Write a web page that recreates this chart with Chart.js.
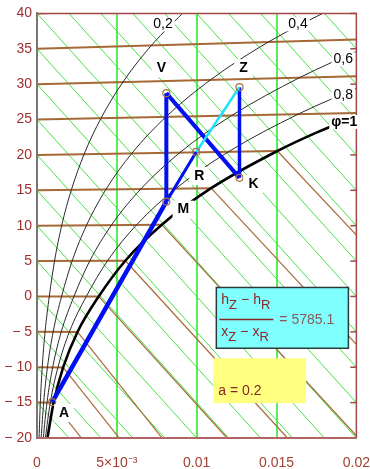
<!DOCTYPE html>
<html lang="de">
<head>
<meta charset="UTF-8">
<title>h-x Diagramm</title>
<style>
    body { margin: 0; background: #fff; }
    #wrap { width: 370px; height: 469px; }
</style>
<script src="https://cdn.jsdelivr.net/npm/chart.js"></script>
</head>
<body>
<div id="wrap"><canvas id="hx" width="370" height="469"></canvas></div>
<script>
// --- Achsen ---
const xTickLabels = ['0', '5×10⁻³', '0.01', '0.015', '0.02'];
const yTickValues = [-20, -15, -10, -5, 0, 5, 10, 15, 20, 25, 30, 35, 40];

// --- Isothermen: t bei x = 0, Punkt auf phi = 1 (bzw. Rand), Ende der Nebelisotherme ---
const isoT    = [-20, -15, -10, -5, 0, 5, 10, 15, 20, 25, 30, 35, 40];
const isoSatX = [0.000651, 0.00104, 0.001637, 0.002535, 0.003864, 0.005531, 0.007814, 0.010905, 0.015052, 0.02, 0.02, 0.02, 0.02];
const isoSatY = [-20.02, -15.03, -10.03, -5.02, 0, 5.05, 10.14, 15.30, 20.56, 25.93, 31.11, 36.30, 41.48];
const fogEndX = [null, 0.002783, 0.005148, 0.007832, 0.011901, 0.015682, 0.02, 0.02, 0.02, null, null, null, null];
const fogEndY = [null, -20, -20, -20, -20, -20, -19.68, -6.76, 8.66, null, null, null, null];

// --- Linien konstanter Enthalpie (Wert am linken und rechten Rand) ---
const hLeft  = [-15, -10, -5, 0, 5, 10, 15, 20, 25, 30, 35, 40, 45, 50, 55, 60, 65, 70, 75, 80, 85, 90];
const hRight = [-65, -60, -55, -50, -45, -40, -35, -30, -25, -20, -15, -10, -5, 0, 5, 10, 15, 20, 25, 30, 35, 40];

// --- Linien konstanter relativer Feuchte ---
const phi02X = [0.000130, 0.000208, 0.000327, 0.000505, 0.000769, 0.001098, 0.001547, 0.002151, 0.002953, 0.004009, 0.005382, 0.007154, 0.009420];
const phi02Y = [-20.00, -15.01, -10.01, -5.00, 0, 5.01, 10.03, 15.06, 20.11, 25.19, 30.30, 35.46, 40.70];
const phi04X = [0.000260, 0.000416, 0.000654, 0.001011, 0.001540, 0.002200, 0.003102, 0.004316, 0.005935, 0.008069, 0.010859, 0.014475, 0.019129];
const phi04Y = [-20.01, -15.01, -10.01, -5.01, 0, 5.02, 10.06, 15.12, 20.22, 25.37, 30.60, 35.94, 41.42];
const phi06X = [0.000391, 0.000623, 0.000981, 0.001518, 0.002313, 0.003307, 0.004665, 0.006497, 0.008945, 0.012183, 0.016432, 0.018473, 0.020026];
const phi06Y = [-20.01, -15.02, -10.02, -5.01, 0, 5.03, 10.09, 15.18, 20.33, 25.56, 30.91, 33.09, 34.64];
const phi08X = [0.000521, 0.000831, 0.001309, 0.002026, 0.003087, 0.004417, 0.006235, 0.008693, 0.011984, 0.016350, 0.018461, 0.020066];
const phi08Y = [-20.02, -15.02, -10.03, -5.02, 0, 5.04, 10.12, 15.24, 20.44, 25.76, 27.92, 29.45];
const phi10X = [0.000651, 0.001040, 0.001637, 0.002535, 0.003864, 0.005531, 0.007814, 0.010905, 0.015052, 0.017570, 0.019970];
const phi10Y = [-20.02, -15.03, -10.03, -5.02, 0, 5.05, 10.14, 15.30, 20.56, 23.23, 25.41];

// --- Zustandspunkte ---
const ptName = ['A', 'M', 'R', 'V', 'Z', 'K'];
const ptX    = [0.00095, 0.0081, 0.00997, 0.0081, 0.01268, 0.01268];
const ptY    = [-14.93, 13.4, 20.42, 28.73, 29.58, 16.76];

// Beschriftungen (Lage im Diagramm) und Kästen
const phiLabels = [
    { text: '0,2', x: 0.00789, y: 38.45, bold: false },
    { text: '0,4', x: 0.01634, y: 38.45, bold: false },
    { text: '0,6', x: 0.01918, y: 33.52, bold: false },
    { text: '0,8', x: 0.01918, y: 28.45, bold: false },
    { text: 'φ=1', x: 0.01924, y: 24.65, bold: true }
];
const ptLabelOffset = { A: [12, 11], M: [17, 8], R: [3, 24], V: [-5, -25], Z: [4, -19], K: [14, 6] };
const cyanBox   = { x1: 0.01123, y1: 1.27, x2: 0.0195, y2: -7.32 };
const yellowBox = { x1: 0.01104, y1: -8.73, x2: 0.01685, y2: -15.07 };
const slopeText = '= 5785.1';
const aText = 'a = 0.2';

const FONT = 'Arial, "Liberation Sans", sans-serif';
const GREEN = 'rgb(70,225,70)';
const BROWN = 'rgb(165,105,55)';
const BLUE = '#0010f0';
const CYAN = '#18e0ff';
const MAROON = '#8b2525';

function pt(name) {
    const i = ptName.indexOf(name);
    return { x: ptX[i], y: ptY[i] };
}

function line(points, color, width, extra) {
    return Object.assign({
        data: points,
        showLine: true,
        borderColor: color,
        borderWidth: width,
        pointRadius: 0,
        pointHoverRadius: 0,
        fill: false,
        tension: 0
    }, extra || {});
}

// Ebenen von unten nach oben
const layers = [];

hLeft.forEach((h, i) => {
    layers.push(line([{ x: 0, y: h }, { x: 0.02, y: hRight[i] }], GREEN, 1));
});

isoT.forEach((t, i) => {
    layers.push(line([{ x: 0, y: t }, { x: isoSatX[i], y: isoSatY[i] }], BROWN, 2));
    if (fogEndX[i] !== null) {
        layers.push(line([{ x: isoSatX[i], y: isoSatY[i] }, { x: fogEndX[i], y: fogEndY[i] }], BROWN, 1.2));
    }
});

[[phi02X, phi02Y, 1], [phi04X, phi04Y, 1], [phi06X, phi06Y, 1], [phi08X, phi08Y, 1], [phi10X, phi10Y, 2.6]].forEach(c => {
    const pts = c[0].map((x, k) => ({ x: x, y: c[1][k] }));
    layers.push(line(pts, c[2] > 1 ? '#000' : '#2a2a2a', c[2], { cubicInterpolationMode: 'monotone' }));
});

layers.push(line([pt('A'), pt('M')], BLUE, 4.5));
layers.push(line([pt('M'), pt('R')], BLUE, 3));
layers.push(line([pt('V'), pt('M')], BLUE, 4));
layers.push(line([pt('V'), pt('K')], BLUE, 4));
layers.push(line([pt('K'), pt('Z')], BLUE, 3.5));
layers.push(line([pt('Z'), pt('R')], CYAN, 2.5));

layers.push({
    data: ptName.map(n => pt(n)),
    showLine: false,
    pointRadius: 3.5,
    pointBorderWidth: 1.2,
    pointBorderColor: 'rgb(170,110,70)',
    pointBackgroundColor: 'rgba(0,0,0,0)'
});

layers.forEach((d, i) => { d.order = layers.length - i; });

function labelBox(ctx, text, cx, cy, font, padX, h) {
    ctx.font = font;
    const w = ctx.measureText(text).width;
    ctx.fillStyle = '#fff';
    ctx.fillRect(cx - w / 2 - padX, cy - h / 2, w + 2 * padX, h);
    ctx.fillStyle = '#000';
    ctx.textAlign = 'center';
    ctx.textBaseline = 'middle';
    ctx.fillText(text, cx, cy);
}

// Bruch mit Indizes: Grundbuchstabe + Index, zweimal
function subTerm(ctx, letter, x0, base) {
    let x = x0;
    ctx.font = '14px ' + FONT;
    ctx.fillText(letter, x, base);
    x += ctx.measureText(letter).width;
    ctx.font = '13px ' + FONT;
    ctx.fillText('Z', x, base + 5);
    x += ctx.measureText('Z').width + 4;
    ctx.font = '14px ' + FONT;
    ctx.fillText('−', x, base);
    x += ctx.measureText('−').width + 4;
    ctx.fillText(letter, x, base);
    x += ctx.measureText(letter).width;
    ctx.font = '13px ' + FONT;
    ctx.fillText('R', x, base + 5);
}

const notes = {
    id: 'notes',
    afterDatasetsDraw(chart) {
        const { ctx, chartArea: a, scales: { x, y } } = chart;
        ctx.save();

        // Rahmen oben/rechts mit Teilstrichen
        ctx.strokeStyle = '#a04848';
        ctx.lineWidth = 1.5;
        ctx.beginPath();
        ctx.moveTo(a.left, a.top);
        ctx.lineTo(a.right, a.top);
        ctx.lineTo(a.right, a.bottom);
        ctx.stroke();
        yTickValues.forEach(v => {
            const py = y.getPixelForValue(v);
            ctx.beginPath();
            ctx.moveTo(a.right - 6, py);
            ctx.lineTo(a.right, py);
            ctx.stroke();
        });

        // phi-Beschriftungen
        phiLabels.forEach(l => {
            labelBox(ctx, l.text, x.getPixelForValue(l.x), y.getPixelForValue(l.y),
                (l.bold ? 'bold ' : '') + '14px ' + FONT, 2, 14);
        });

        // Punktnamen
        ptName.forEach(n => {
            const p = pt(n);
            const o = ptLabelOffset[n];
            labelBox(ctx, n, x.getPixelForValue(p.x) + o[0], y.getPixelForValue(p.y) + o[1],
                'bold 14px ' + FONT, 5, 18);
        });

        // Kasten mit Steigung
        const cx1 = x.getPixelForValue(cyanBox.x1), cy1 = y.getPixelForValue(cyanBox.y1);
        const cx2 = x.getPixelForValue(cyanBox.x2), cy2 = y.getPixelForValue(cyanBox.y2);
        ctx.fillStyle = '#80ffff';
        ctx.fillRect(cx1, cy1, cx2 - cx1, cy2 - cy1);
        ctx.strokeStyle = '#2a3a3a';
        ctx.lineWidth = 1.5;
        ctx.strokeRect(cx1, cy1, cx2 - cx1, cy2 - cy1);
        ctx.fillStyle = MAROON;
        ctx.textAlign = 'left';
        ctx.textBaseline = 'alphabetic';
        subTerm(ctx, 'h', cx1 + 5, cy1 + 17);
        subTerm(ctx, 'x', cx1 + 5, cy1 + 49);
        ctx.strokeStyle = MAROON;
        ctx.beginPath();
        ctx.moveTo(cx1 + 3, cy1 + 32);
        ctx.lineTo(cx1 + 57, cy1 + 32);
        ctx.stroke();
        ctx.fillStyle = '#8a5858';
        ctx.font = '14px ' + FONT;
        ctx.fillText(slopeText, cx1 + 63, cy1 + 37);

        // Kasten a
        const yx1 = x.getPixelForValue(yellowBox.x1), yy1 = y.getPixelForValue(yellowBox.y1);
        const yx2 = x.getPixelForValue(yellowBox.x2), yy2 = y.getPixelForValue(yellowBox.y2);
        ctx.fillStyle = '#ffff80';
        ctx.fillRect(yx1, yy1, yx2 - yx1, yy2 - yy1);
        ctx.fillStyle = MAROON;
        ctx.font = '14px ' + FONT;
        ctx.fillText(aText, yx1 + 5, yy1 + 37);

        ctx.restore();
    }
};

new Chart(document.getElementById('hx'), {
    type: 'scatter',
    data: { datasets: layers },
    options: {
        responsive: false,
        devicePixelRatio: 1,
        animation: false,
        events: [],
        layout: { padding: { top: 12, right: 2, left: 0, bottom: 0 } },
        plugins: { legend: { display: false }, tooltip: { enabled: false } },
        scales: {
            x: {
                type: 'linear',
                min: 0,
                max: 0.02,
                afterFit: s => { s.height = 31; },
                ticks: {
                    stepSize: 0.005,
                    autoSkip: false,
                    maxRotation: 0,
                    padding: 0,
                    color: '#a04030',
                    font: { family: FONT, size: 14 },
                    callback: (v, i) => xTickLabels[i]
                },
                grid: {
                    drawTicks: true,
                    tickLength: 17,
                    tickColor: 'rgba(0,0,0,0)',
                    lineWidth: 2,
                    color: c => (c.index > 0 && c.index < 4) ? 'rgb(90,235,90)' : 'rgba(0,0,0,0)'
                },
                border: { color: '#b06464', width: 2, z: 1 }
            },
            y: {
                type: 'linear',
                min: -20,
                max: 40,
                afterFit: s => { s.width = 37; },
                ticks: {
                    stepSize: 5,
                    padding: 5,
                    color: '#a03030',
                    font: { family: FONT, size: 14 },
                    callback: v => v < 0 ? '− ' + (-v) : String(v)
                },
                grid: { display: false, drawTicks: false },
                border: { color: '#777', width: 2, z: 1 }
            }
        }
    },
    plugins: [notes]
});
</script>
</body>
</html>
